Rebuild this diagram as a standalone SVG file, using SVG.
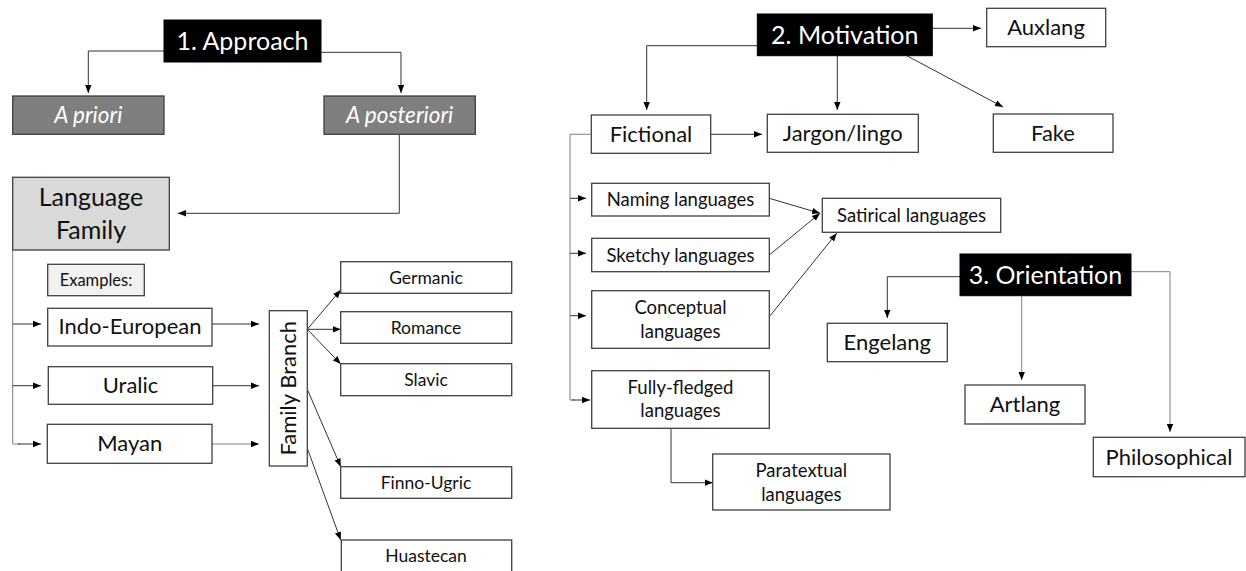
<svg xmlns="http://www.w3.org/2000/svg" width="1246" height="571" viewBox="0 0 1246 571">
<defs>
<marker id="ah" viewBox="0 0 10 10" refX="10" refY="5" markerWidth="8" markerHeight="8" markerUnits="userSpaceOnUse" orient="auto"><path d="M0,1 L10,5 L0,9 z" fill="#000"/></marker>
<style>
text{font-family:Lato,"Open Sans","Liberation Sans",sans-serif;text-anchor:middle;fill:#111}
.box{fill:#fff;stroke:#404040;stroke-width:1.3}
.dark{fill:#000;stroke:#000}
.gray{fill:#7f7f7f;stroke:#404040;stroke-width:1.3}
.lgray{fill:#d9d9d9;stroke:#404040;stroke-width:1.3}
.xgray{fill:#f2f2f2;stroke:#404040;stroke-width:1.3}
.h{font-size:25px;fill:#fff}
.it{font-size:22.5px;font-style:italic;fill:#fff}
.l{font-size:22px}
.m{font-size:18.5px}
.s{font-size:17.5px}
#connectors path{fill:none;stroke:#333;stroke-width:1;marker-end:url(#ah)}
#connectors path.g{stroke:#808080}
#connectors path.n{marker-end:none}
</style>
</defs>
<rect width="1246" height="571" fill="#fff"/>
<g id="connectors">
<path d="M164,51 H88.3 V93"/>
<path d="M320.7,52.3 H401 V93"/>
<path d="M399.3,134.3 V213.3 H178"/>
<path class="g n" d="M12.7,250 V444 H20"/>
<path d="M12.7,324 H41"/>
<path d="M12.7,385.7 H41"/>
<path d="M18,444 H41"/>
<path d="M212,324 H259"/>
<path d="M212.7,385.7 H259"/>
<path class="g" d="M212,444 H259"/>
<path d="M307.3,329.3 L340.7,290"/>
<path d="M307.3,329.3 L340.7,329.3"/>
<path d="M307.3,329.3 L340.7,364"/>
<path d="M307.3,389.3 L340.7,466.7"/>
<path d="M307.3,448.3 L340.7,540"/>
<path d="M757.3,45.7 H646.7 V110"/>
<path d="M837.3,55.7 V110"/>
<path d="M932.3,28.3 H981"/>
<path d="M906.7,55.7 L1003,107"/>
<path d="M710.7,134.3 H762"/>
<path class="g n" d="M591.3,134.3 H570 V400 H575"/>
<path d="M570,198.3 H586"/>
<path d="M570,253.3 H586"/>
<path d="M570,315.7 H586"/>
<path d="M572,400 H590"/>
<path d="M769.3,198.3 L820,213.3"/>
<path d="M769.3,255 L820,213.3"/>
<path d="M769.3,316.7 L836.7,233.3"/>
<path d="M671,428.3 V482.7 H712.7"/>
<path d="M960,276.7 H887.3 V318"/>
<path class="g" d="M1021.7,295.7 V380"/>
<path class="g" d="M1131,271.7 H1170 V432"/>
</g>
<g id="approach"><rect class="dark" x="164" y="20" width="157" height="42"/><text class="h" x="242.5" y="50">1. Approach</text></g>
<g id="a-priori"><rect class="gray" x="12.7" y="96" width="151.3" height="38.3"/><text class="it" x="88.3" y="122.5">A priori</text></g>
<g id="a-posteriori"><rect class="gray" x="324" y="96" width="151.3" height="38.3"/><text class="it" x="399.7" y="122.5">A posteriori</text></g>
<g id="language-family"><rect class="lgray" x="12.7" y="177.3" width="156.6" height="72.7"/><text class="h" style="fill:#111" x="91" y="206">Language</text><text class="h" style="fill:#111" x="91" y="239">Family</text></g>
<g id="examples"><rect class="xgray" x="47.7" y="264.3" width="96.6" height="31.4"/><text x="96" y="285.5" style="font-size:16.5px">Examples:</text></g>
<g id="indo-european"><rect class="box" x="47.7" y="308.3" width="164.3" height="37.7"/><text class="l" x="130" y="334">Indo-European</text></g>
<g id="uralic"><rect class="box" x="48.3" y="366.7" width="164.4" height="37.6"/><text class="l" x="130.5" y="393">Uralic</text></g>
<g id="mayan"><rect class="box" x="47.3" y="424.3" width="164.7" height="39"/><text class="l" x="129.7" y="451">Mayan</text></g>
<g id="family-branch"><rect class="box" x="269.3" y="310.7" width="38" height="155.3"/><text class="l" transform="translate(296,388.3) rotate(-90)">Family Branch</text></g>
<g id="germanic"><rect class="box" x="340.7" y="261.7" width="171" height="31.6"/><text class="s" x="426" y="283.5">Germanic</text></g>
<g id="romance"><rect class="box" x="340.7" y="311.7" width="171" height="31.6"/><text class="s" x="426" y="333.5">Romance</text></g>
<g id="slavic"><rect class="box" x="340.7" y="363.7" width="171" height="32"/><text class="s" x="426" y="385.5">Slavic</text></g>
<g id="finno-ugric"><rect class="box" x="340.7" y="466.7" width="171" height="31.6"/><text class="s" x="426" y="488.5">Finno-Ugric</text></g>
<g id="huastecan"><rect class="box" x="341.3" y="540" width="170.4" height="36"/><text class="s" x="426" y="562">Huastecan</text></g>
<g id="motivation"><rect class="dark" x="757.3" y="14" width="175" height="41.7"/><text class="h" x="844.8" y="44">2. Motivation</text></g>
<g id="auxlang"><rect class="box" x="986.7" y="8.3" width="119" height="38.4"/><text class="l" x="1046" y="35">Auxlang</text></g>
<g id="fictional"><rect class="box" x="591.3" y="115" width="119.4" height="38.3"/><text class="l" x="651" y="141.5">Fictional</text></g>
<g id="jargon"><rect class="box" x="767.3" y="114.3" width="151" height="38"/><text class="l" x="842.8" y="141">Jargon/lingo</text></g>
<g id="fake"><rect class="box" x="993.3" y="114" width="119.7" height="38.3"/><text class="l" x="1053" y="141">Fake</text></g>
<g id="naming"><rect class="box" x="591.7" y="183.3" width="177.6" height="32.7"/><text class="m" x="680.5" y="206">Naming languages</text></g>
<g id="sketchy"><rect class="box" x="591.7" y="238.3" width="177.6" height="33.4"/><text class="m" x="680.5" y="261.5">Sketchy languages</text></g>
<g id="conceptual"><rect class="box" x="591.7" y="290.7" width="177.6" height="57.6"/><text class="m" x="680.5" y="313.5">Conceptual</text><text class="m" x="680.5" y="337.5">languages</text></g>
<g id="satirical"><rect class="box" x="822.3" y="198.3" width="178.4" height="34"/><text class="m" x="911.5" y="221.5">Satirical languages</text></g>
<g id="fully-fledged"><rect class="box" x="591.7" y="370.7" width="177.6" height="57.6"/><text class="m" x="680.5" y="394">Fully-fledged</text><text class="m" x="680.5" y="416.5">languages</text></g>
<g id="paratextual"><rect class="box" x="712.7" y="454" width="177.3" height="56"/><text class="m" x="801.3" y="477">Paratextual</text><text class="m" x="801.3" y="500.5">languages</text></g>
<g id="orientation"><rect class="dark" x="960" y="254" width="171" height="41.7"/><text class="h" x="1045.5" y="284">3. Orientation</text></g>
<g id="engelang"><rect class="box" x="827.3" y="323.3" width="120" height="38.4"/><text class="l" x="887.3" y="350">Engelang</text></g>
<g id="artlang"><rect class="box" x="965" y="385" width="120" height="39"/><text class="l" x="1025" y="412">Artlang</text></g>
<g id="philosophical"><rect class="box" x="1093.3" y="437.3" width="151.7" height="39.4"/><text class="l" x="1169" y="465">Philosophical</text></g>
</svg>
